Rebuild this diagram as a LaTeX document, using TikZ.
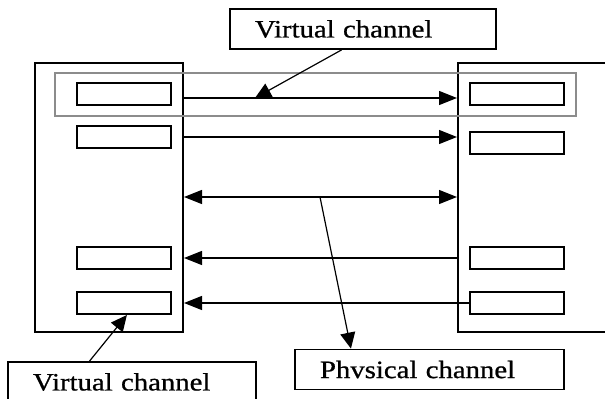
\documentclass[tikz,border=0pt]{standalone}
\usepackage{fontspec}
\setmainfont[FakeStretch=1.15, FakeBold=0.8]{Liberation Serif}
\usetikzlibrary{positioning, arrows.meta, calc}
\definecolor{framegray}{HTML}{8C8C8C}

\begin{document}
\begin{tikzpicture}[
  x=0.5pt, y=-0.5pt,
  host/.style={draw, line width=1pt, minimum width=74pt, minimum height=134.5pt, inner sep=0pt},
  vcbox/.style={draw, line width=1pt, minimum width=47pt, minimum height=11pt, inner sep=0pt},
  tagbox/.style={draw, line width=0.9pt, inner xsep=12.5pt, inner ysep=0pt, text width=#1,
                 align=left, minimum height=20pt, font=\fontsize{12.5}{14}\selectfont},
  arr/.style={-{Triangle[length=9pt, width=7pt]}, line width=0.65pt},
  arrs/.style={{Triangle[length=9pt, width=7pt]}-{Triangle[length=9pt, width=7pt]}, line width=0.65pt},
  ptr/.style={-{Triangle[length=8pt, width=7.5pt]}, line width=0.6pt}
]
\useasboundingbox (0,0) rectangle (605,398);

\node[host] (lhost) at (109,197.5) {};
\node[host, minimum width=91pt] (rhost) at (549,197.5) {};
\node[draw=framegray, line width=0.75pt, minimum width=260.5pt, minimum height=21.5pt, inner sep=0pt] (vcframe) at (315.5,94.5) {};

\foreach \n/\y in {1/93.5, 2/137, 4/258, 5/303}
  \node[vcbox] (lvc\n) at (124,\y) {};
\foreach \n/\y in {1/93.5, 2/142.5, 4/258, 5/303}
  \node[vcbox] (rvc\n) at (517,\y) {};

\coordinate (row1) at (0,98);
\coordinate (mid) at (0,197);

\draw[arr] (lhost.east |- row1) -- (rhost.west |- row1);
\draw[arr] (lhost.east |- lvc2) -- (rhost.west |- lvc2);
\draw[arrs] (lhost.east |- mid) -- (rhost.west |- mid);
\draw[arr] (rhost.west |- lvc4) -- (lhost.east |- lvc4);
\draw[arr] (rvc5.west) -- (lhost.east |- lvc5);

\node[tagbox=108pt] (toptag) at (363,29) {Virtual channel};
\node[tagbox=109.5pt] (phystag) at (429.5,369.5) {Phvsical channel};
\node[tagbox=99pt] (lowtag) at (132,382) {Virtual channel};

\coordinate (vchit) at (255,98);
\coordinate (pchit) at (320,197);
\draw[ptr] ($(toptag.south west)!0.42!(toptag.south east)$) -- (vchit);
\draw[ptr] (pchit) -- ($(phystag.north west)!0.21!(phystag.north east)$);
\draw[ptr] ($(lowtag.north west)!0.33!(lowtag.north east)$) -- ($(lvc5.south west)!0.53!(lvc5.south east)$);
\end{tikzpicture}
\end{document}
